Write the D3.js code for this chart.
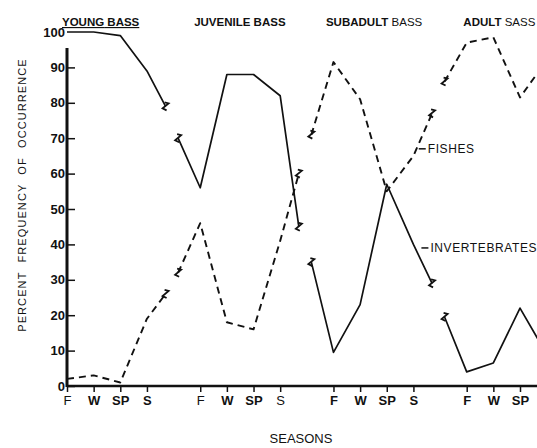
<!DOCTYPE html>
<html>
<head>
<meta charset="utf-8">
<script src="https://cdn.jsdelivr.net/npm/d3@7"></script>
<style>
  body { margin: 0; background: #fff; }
  svg { display: block; }
  text { font-family: "Liberation Sans", Arial, sans-serif; fill: #111; }
</style>
</head>
<body>
<div id="chart"></div>
<script>
const seasons = ["F", "W", "SP", "S"];
const stages = ["YOUNG BASS", "JUVENILE BASS", "SUBADULT BASS", "ADULT SASS"];
const yTicks = [0, 10, 20, 30, 40, 50, 60, 70, 80, 90, 100];

// per stage: [break in, F, W, SP, S, break out]
const fishes = [
  [null, 2, 3, 1, 19, 26],
  [32, 46, 18, 16, 41, 60],
  [71, 91.5, 81, 55, 65, 77],
  [86, 97, 98.5, 81.5, 92, null]
];
const invertebrates = [
  [null, 100, 100, 99, 89, 79],
  [70, 56, 88, 88, 82, 45],
  [35, 9.5, 23, 57, 40, 29],
  [19.5, 4, 6.5, 22, 9, null]
];

const W = 537, H = 448;
const margin = { top: 32, left: 67 };
const height = 386 - margin.top;

const svg = d3.select("#chart")
  .append("svg")
  .attr("width", W)
  .attr("height", H);

const g = svg.append("g")
  .attr("transform", `translate(${margin.left},${margin.top})`);

// each stage takes 5 units: 4 seasons and a gap
const x = d3.scaleLinear().domain([0, 17]).range([0, 453]);
const y = d3.scaleLinear().domain([0, 100]).range([height, 0]);

const unitOffsets = [-0.83, 0, 1, 2, 3, 3.7];

function stagePoints(vals, i) {
  return vals.map((v, j) => ({ k: i * 5 + unitOffsets[j], v, j }))
    .filter(d => d.v !== null);
}

const line = d3.line().x(d => x(d.k)).y(d => y(d.v));

function breakMark(p) {
  const px = x(p.k), py = y(p.v);
  return `M${px - 1},${py - 4} L${px + 3},${py - 3} L${px - 3},${py + 2} L${px + 1},${py + 4}`;
}

function drawSeries(data, dashed) {
  data.forEach((vals, i) => {
    const pts = stagePoints(vals, i);
    g.append("path")
      .attr("d", line(pts))
      .attr("fill", "none")
      .attr("stroke", "#111")
      .attr("stroke-width", dashed ? 1.9 : 1.7)
      .attr("stroke-dasharray", dashed ? "7,5" : null)
      .attr("stroke-linejoin", "round");
    pts.filter(p => p.j === 0 || p.j === 5).forEach(p => {
      g.append("path")
        .attr("d", breakMark(p))
        .attr("fill", "none")
        .attr("stroke", "#111")
        .attr("stroke-width", 1.8);
    });
  });
}

drawSeries(fishes, true);
drawSeries(invertebrates, false);

// X axis
const xTickVals = [];
const xTickLabels = [];
stages.forEach((s, i) => seasons.forEach((se, j) => {
  xTickVals.push(i * 5 + j);
  xTickLabels.push(se);
}));

const xAxis = g.append("g")
  .attr("transform", `translate(0,${height})`)
  .call(d3.axisBottom(x).tickValues(xTickVals)
    .tickFormat((d, i) => xTickLabels[i]).tickSizeOuter(0).tickSize(6).tickPadding(4));
xAxis.select(".domain").remove();
xAxis.selectAll("line").attr("stroke", "#111").attr("stroke-width", 1.5);
xAxis.selectAll("text")
  .style("font-size", "13px")
  .style("font-weight", d => (d === 0 || d === 5 || d === 8) ? "normal" : "bold")
  .attr("fill", "#111");
g.append("line")
  .attr("x1", 0).attr("x2", W - margin.left)
  .attr("y1", height).attr("y2", height)
  .attr("stroke", "#111").attr("stroke-width", 2.5);

// Y axis
const yAxis = g.append("g")
  .call(d3.axisLeft(y).tickValues(yTicks).tickSize(-8).tickPadding(2));
yAxis.select(".domain").remove();
yAxis.selectAll(".tick line")
  .attr("stroke", "#111").attr("stroke-width", 1.5)
  .filter(d => d === 100).remove();
yAxis.selectAll("text")
  .style("font-size", "13px")
  .style("font-weight", "bold")
  .attr("fill", "#111");
g.append("line")
  .attr("x1", 0).attr("x2", 0)
  .attr("y1", height + 1).attr("y2", y(95.5))
  .attr("stroke", "#111").attr("stroke-width", 3);

// stage titles
const titleNudge = [-5, 1, 2, -6];
stages.forEach((s, i) => {
  const words = s.split(" ");
  const t = g.append("text")
    .attr("x", x(i * 5 + 1.45) + titleNudge[i])
    .attr("y", -6)
    .attr("text-anchor", "middle")
    .style("font-size", "11.5px");
  t.append("tspan").style("font-weight", "bold").text(words[0]);
  t.append("tspan").style("font-weight", i < 2 ? "bold" : "normal").text(" " + words[1]);
  if (i === 0) t.style("text-decoration", "underline");
});

// series labels
function seriesLabel(k, v, label) {
  g.append("line")
    .attr("x1", x(k)).attr("x2", x(k) + 7)
    .attr("y1", y(v)).attr("y2", y(v))
    .attr("stroke", "#111").attr("stroke-width", 1.5);
  g.append("text")
    .attr("x", x(k) + 9)
    .attr("y", y(v) + 4.5)
    .style("font-size", "12px")
    .style("letter-spacing", "0.6px")
    .text(label);
}
seriesLabel(13.2, 67, "FISHES");
seriesLabel(13.3, 39, "INVERTEBRATES");

// axis titles
svg.append("text")
  .attr("transform", `translate(26,${195}) rotate(-90)`)
  .attr("text-anchor", "middle")
  .style("font-size", "11px")
  .style("letter-spacing", "1.1px")
  .style("word-spacing", "5px")
  .text("PERCENT FREQUENCY OF OCCURRENCE");

svg.append("text")
  .attr("x", 301)
  .attr("y", 443)
  .attr("text-anchor", "middle")
  .style("font-size", "13px")
  .text("SEASONS");
</script>
</body>
</html>
